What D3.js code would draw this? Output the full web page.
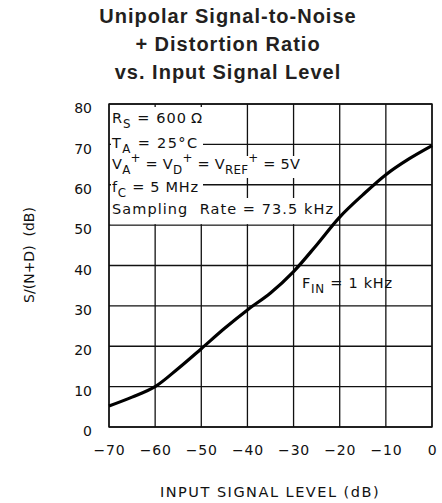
<!DOCTYPE html>
<html>
<head>
<meta charset="utf-8">
<script src="https://cdn.jsdelivr.net/npm/d3@7"></script>
<style>
  html, body { margin: 0; padding: 0; background: #fff; }
  svg { display: block; }
</style>
</head>
<body>
<svg id="chart" width="442" height="503"></svg>
<script>
// ---- data ----
const titleLines = ["Unipolar Signal-to-Noise", "+ Distortion Ratio", "vs. Input Signal Level"];
const inputLevel = [-70, -65, -60, -55, -50, -45, -40, -35, -30, -25, -20, -15, -10, -5, 0];
const snrValues  = [5.2, 7.4, 10.0, 14.5, 19.4, 24.4, 29.0, 33.2, 38.5, 45.1, 52.0, 57.5, 62.5, 66.4, 69.7];
const xTicks = [-70, -60, -50, -40, -30, -20, -10, 0];
const yTicks = [0, 10, 20, 30, 40, 50, 60, 70, 80];
const xAxisTitle = "INPUT SIGNAL LEVEL (dB)";
const yAxisTitle = "S/(N+D)\u00a0\u00a0(dB)";
const curveLabel = [["F", 0], ["IN", 1], [" = 1 kHz", 0]];
// annotation lines: segments [text, kind] kind 0 normal, 1 sub, 2 sup
const conditions = [
  [["R", 0], ["S", 1], [" = 600\u2009\u03a9", 0]],
  [["T", 0], ["A", 1], [" = 25\u00b0C", 0]],
  [["V", 0], ["A", 1], ["+", 2], [" = V", 0], ["D", 1], ["+", 2], [" = V", 0], ["REF", 1], ["+", 2], [" = 5V", 0]],
  [["f", 0], ["C", 1], [" = 5 MHz", 0]],
  [["Sampling\u00a0 Rate = 73.5 kHz", 0]]
];

// ---- layout ----
const svg = d3.select("#chart");
const plot = { left: 109, top: 104, right: 432, bottom: 427 };
const x = d3.scaleLinear().domain([-70, 0]).range([plot.left, plot.right]);
const y = d3.scaleLinear().domain([0, 80]).range([plot.bottom, plot.top]);
const plotFont = "'DejaVu Sans', sans-serif";

// title
svg.append("g").selectAll("text").data(titleLines).join("text")
  .attr("x", 228).attr("y", (d, i) => 22.7 + i * 28.2)
  .attr("text-anchor", "middle")
  .attr("font-family", "'Liberation Sans', Arial, sans-serif")
  .attr("font-weight", "bold").attr("font-size", 20)
  .attr("letter-spacing", 1)
  .attr("fill", "#231f20")
  .text(d => d);

// grid
const grid = svg.append("g").attr("stroke", "#111").attr("stroke-width", 1.3);
grid.selectAll("line.v").data(xTicks).join("line")
  .attr("x1", d => x(d)).attr("x2", d => x(d))
  .attr("y1", plot.top).attr("y2", plot.bottom);
grid.selectAll("line.h").data(yTicks).join("line")
  .attr("x1", plot.left).attr("x2", plot.right)
  .attr("y1", d => y(d)).attr("y2", d => y(d));

// white backgrounds behind annotation lines
const bgBoxes = [
  [111, 107, 204, 127],
  [111, 127, 203, 156],
  [111, 156, 300, 178],
  [111, 178, 203, 198],
  [111, 198, 336, y(50) - 1]
];
svg.append("g").selectAll("rect").data(bgBoxes).join("rect")
  .attr("x", d => d[0]).attr("y", d => d[1])
  .attr("width", d => d[2] - d[0]).attr("height", d => d[3] - d[1])
  .attr("fill", "#fff");

// frame
svg.append("rect")
  .attr("x", plot.left).attr("y", plot.top)
  .attr("width", plot.right - plot.left).attr("height", plot.bottom - plot.top)
  .attr("fill", "none").attr("stroke", "#111").attr("stroke-width", 1.4);

// rich text helper
function richText(g, segs, x0, y0, size, len) {
  const t = g.append("text").attr("x", x0).attr("y", y0)
    .attr("font-family", plotFont).attr("font-size", size)
    .attr("fill", "#111");
  if (len) t.attr("textLength", len).attr("lengthAdjust", "spacing");
  let cur = 0;
  segs.forEach(([txt, kind]) => {
    const target = kind === 1 ? 5 : kind === 2 ? -7 : 0;
    t.append("tspan")
      .attr("dy", target - cur)
      .attr("font-size", kind === 0 ? size : size * 0.82)
      .text(txt);
    cur = target;
  });
  return t;
}

// annotation
const ann = svg.append("g");
const annBase = [123, 147.5, 168.5, 191.5, 214];
const annLen = [90, 85, 188, 86, 221];
conditions.forEach((segs, i) => richText(ann, segs, 112, annBase[i], 14.5, annLen[i]));

// curve label
richText(svg.append("g"), curveLabel, 302, 288, 14.5, 90);

// curve
const line = d3.line().x((d, i) => x(inputLevel[i])).y(d => y(d)).curve(d3.curveCatmullRom.alpha(0.5));
svg.append("path").datum(snrValues)
  .attr("d", line)
  .attr("fill", "none").attr("stroke", "#000").attr("stroke-width", 3.2)
  .attr("stroke-linejoin", "round").attr("stroke-linecap", "butt");

// axes tick labels
const yAxis = d3.axisLeft(y).tickValues(yTicks).tickSize(0).tickPadding(0).tickFormat(d3.format("d"));
const gy = svg.append("g").attr("transform", `translate(${plot.left - 17},0)`).call(yAxis);
gy.select(".domain").remove();
gy.selectAll("text").attr("font-family", plotFont).attr("font-size", 14).attr("fill", "#111")
  .attr("dy", "0.62em");

const xAxis = d3.axisBottom(x).tickValues(xTicks).tickSize(0).tickPadding(0)
  .tickFormat(d => d < 0 ? "\u2212" + Math.abs(d) : String(d));
const gx = svg.append("g").attr("transform", `translate(0,${plot.bottom + 18})`).call(xAxis);
gx.select(".domain").remove();
gx.selectAll("text").attr("font-family", plotFont).attr("font-size", 14).attr("fill", "#111")
  .attr("letter-spacing", 0.8);

// axis titles
svg.append("text").attr("x", 270).attr("y", 496.5).attr("text-anchor", "middle")
  .attr("font-family", plotFont).attr("font-size", 14.5).attr("letter-spacing", 1.5)
  .attr("fill", "#111").text(xAxisTitle);
svg.append("text").attr("transform", "translate(33.5,255) rotate(-90)").attr("text-anchor", "middle")
  .attr("font-family", plotFont).attr("font-size", 14).attr("fill", "#111").text(yAxisTitle);
</script>
</body>
</html>
